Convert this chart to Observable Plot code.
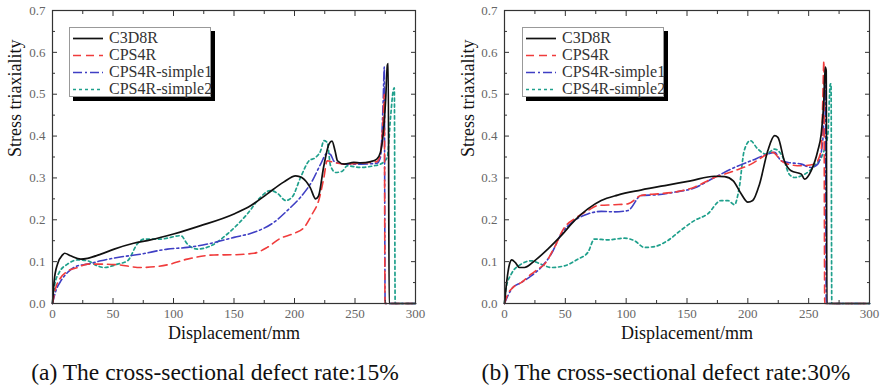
<!DOCTYPE html>
<html><head><meta charset="utf-8">
<script src="https://cdn.jsdelivr.net/npm/d3@7"></script>
<script src="https://cdn.jsdelivr.net/npm/@observablehq/plot@0.6"></script>
<style>
body{margin:0;background:#fff;}
#wrap{position:relative;width:882px;height:386px;overflow:hidden;font-family:"Liberation Serif","Times New Roman",serif;}
.panel{position:absolute;top:0;}
.caption{position:absolute;top:360px;font-size:23.5px;line-height:24px;color:#111;white-space:nowrap;transform:translateX(-50%);}
.legend{position:absolute;top:27px;width:142px;height:70px;box-sizing:border-box;background:#fff;border:1px solid #999;box-shadow:4px 4px 0 #000;}
.row{position:absolute;left:0;height:17px;width:140px;}
.row svg{position:absolute;left:2px;top:0;}
.row span{position:absolute;left:39px;top:-1px;font-size:16px;line-height:17px;color:#333;white-space:nowrap;}
</style>
</head><body>
<div id="wrap"></div>
<script>
// ---- data ----
const seriesNames = ["C3D8R", "CPS4R", "CPS4R-simple1", "CPS4R-simple2"];
const xTicks = [0, 50, 100, 150, 200, 250, 300];
const xMinor = [25, 75, 125, 175, 225, 275];
const yTicks = [0, 0.1, 0.2, 0.3, 0.4, 0.5, 0.6, 0.7];
const yMinor = [0.05, 0.15, 0.25, 0.35, 0.45, 0.55, 0.65];
const captions = ["(a) The cross-sectional defect rate:15%", "(b) The cross-sectional defect rate:30%"];

// (a) defect rate 15%
const c3d8r15 = [[0,0],[1.4,0.054],[4.1,0.094],[8.3,0.116],[10,0.12],[15,0.114],[23.4,0.106],[29,0.108],[40,0.118],[51,0.13],[67,0.144],[81,0.152],[100,0.166],[122.5,0.186],[150,0.214],[164,0.234],[177.5,0.262],[191,0.29],[201,0.305],[206,0.301],[213,0.277],[217.5,0.25],[220,0.258],[224,0.325],[228.5,0.381],[231,0.388],[233.5,0.365],[235.5,0.341],[241,0.333],[249,0.337],[254.6,0.336],[263,0.339],[268,0.345],[271,0.361],[273.3,0.405],[275.3,0.485],[276.8,0.57],[277.5,0.573],[278.2,0],[300,0]];
const cps4r15 = [[0,0],[2.75,0.038],[6.9,0.062],[12.4,0.077],[20.6,0.086],[29,0.094],[40,0.094],[53.7,0.0925],[73,0.086],[95,0.0925],[111.5,0.106],[133.5,0.116],[150,0.1165],[166.5,0.12],[177.5,0.134],[188.5,0.156],[199.6,0.1675],[208,0.182],[214.7,0.214],[220,0.246],[224.3,0.301],[227,0.341],[232.6,0.337],[241,0.333],[254.6,0.335],[268,0.339],[271,0.357],[273.3,0.445],[274.2,0.5],[274.8,0],[300,0]];
const simple1_15 = [[0,0],[2.75,0.03],[6.9,0.054],[12.4,0.074],[20.6,0.09],[29,0.094],[40,0.102],[53.7,0.11],[73,0.118],[95,0.13],[111.5,0.134],[128,0.142],[150,0.158],[166.5,0.17],[183,0.194],[194,0.222],[205,0.254],[214.7,0.293],[221.6,0.333],[227,0.359],[229.8,0.356],[232.6,0.34],[241,0.333],[254.6,0.333],[268,0.335],[271,0.349],[273.3,0.485],[274.2,0.565],[274.9,0],[300,0]];
const simple2_15 = [[0,0],[1.9,0.046],[5.5,0.074],[12.4,0.094],[20.6,0.104],[29,0.102],[37,0.09],[42.7,0.086],[53.7,0.094],[62,0.102],[70,0.142],[75.7,0.154],[89.5,0.154],[106,0.162],[111.5,0.142],[119.7,0.13],[131,0.138],[144.5,0.166],[161,0.214],[172,0.254],[180,0.27],[186,0.263],[192.7,0.246],[198,0.254],[205,0.301],[212,0.341],[217.5,0.349],[221.6,0.365],[224.3,0.389],[227,0.385],[229.8,0.329],[234,0.313],[239.5,0.316],[243.6,0.329],[254.6,0.325],[265.6,0.329],[271,0.333],[276.6,0.349],[279.4,0.445],[281.6,0.509],[282.5,0.515],[283.2,0],[300,0]];

// (b) defect rate 30%
const c3d8r30 = [[0,0],[1.9,0.054],[4.1,0.094],[6,0.104],[8.8,0.098],[12.3,0.086],[16.4,0.086],[24.7,0.102],[35.6,0.13],[46.6,0.162],[57.5,0.198],[68.5,0.226],[79.5,0.246],[93,0.259],[112,0.271],[134,0.283],[153,0.293],[172.6,0.304],[181,0.303],[188,0.293],[194.5,0.262],[200,0.242],[204,0.246],[209.6,0.285],[216.4,0.365],[222,0.401],[224.7,0.397],[230,0.341],[235.6,0.317],[244,0.309],[246.6,0.297],[252,0.317],[257.5,0.365],[260.3,0.405],[262.5,0.485],[263.6,0.565],[264.4,0.557],[265,0],[300,0]];
const cps4r30 = [[0,0],[2.7,0.022],[6.8,0.038],[13.7,0.05],[21.9,0.07],[27.4,0.082],[32.9,0.094],[41,0.134],[49.3,0.182],[57.5,0.202],[68.5,0.222],[76.7,0.234],[90.4,0.236],[101.4,0.238],[112.3,0.258],[126,0.262],[139.7,0.266],[156,0.278],[172.6,0.301],[189,0.317],[202.7,0.333],[216.4,0.357],[220.5,0.361],[227.4,0.341],[233,0.333],[244,0.329],[254.8,0.333],[260.3,0.365],[261.6,0.485],[262.5,0.58],[263.2,0],[300,0]];
const simple1_30 = [[0,0],[2.7,0.018],[6.8,0.038],[13.7,0.05],[21.9,0.066],[30,0.086],[38.4,0.118],[46.6,0.166],[57.5,0.198],[68.5,0.214],[79.5,0.22],[90.4,0.219],[101.4,0.222],[112.3,0.258],[126,0.26],[139.7,0.266],[156,0.276],[172.6,0.301],[189,0.325],[202.7,0.341],[216.4,0.357],[222,0.361],[227.4,0.341],[233,0.337],[244,0.333],[252,0.325],[257.5,0.333],[261.6,0.389],[263,0.517],[263.8,0.557],[264.4,0],[300,0]];
const simple2_30 = [[0,0],[1.4,0.038],[5.5,0.07],[13.7,0.094],[21.9,0.102],[30,0.094],[38.4,0.086],[49.3,0.09],[60.3,0.106],[68.5,0.122],[74,0.154],[85,0.152],[98.6,0.156],[106.8,0.15],[115,0.134],[123.3,0.136],[134,0.15],[145,0.175],[156,0.198],[167,0.214],[178,0.246],[183.6,0.246],[189,0.236],[193,0.278],[197,0.365],[202,0.389],[208.2,0.369],[215,0.357],[222,0.369],[228.8,0.349],[234,0.309],[238.4,0.301],[244,0.305],[250.7,0.317],[256,0.333],[261.6,0.357],[265.8,0.405],[267.8,0.525],[268.4,0.525],[269,0],[300,0]];

// ---- styles ----
const lineStyles = [
  {stroke: "#111111", dash: null, width: 1.7},
  {stroke: "#f03c3c", dash: "8,5", width: 1.6},
  {stroke: "#3f3fc4", dash: "9,3,2,3", width: 1.6},
  {stroke: "#1fa08c", dash: "3,3", width: 1.7}
];

function makePanel(seriesData, ml, mr) {
  const lines = seriesData.map((d, i) => Plot.line(d, {
    x: p => p[0], y: p => p[1], curve: "monotone-x",
    stroke: lineStyles[i].stroke, strokeWidth: lineStyles[i].width,
    strokeDasharray: lineStyles[i].dash
  }));
  return Plot.plot({
    width: 441, height: 350,
    marginTop: 10, marginBottom: 47, marginLeft: ml, marginRight: mr,
    x: {domain: [0, 300]},
    y: {domain: [0, 0.7]},
    style: {fontFamily: "Liberation Serif, Times New Roman, serif", fontSize: "13px", color: "#666", background: "transparent", overflow: "visible"},
    marks: [
      ...lines.slice().reverse(),
      Plot.frame({stroke: "#333", strokeWidth: 1.2}),
      Plot.axisX(xTicks, {anchor: "bottom", tickSize: 0, tickPadding: 5, tickFormat: d => String(d), label: null, fill: "#666"}),
      Plot.axisX(xTicks, {anchor: "bottom", tickSize: -5, tickFormat: () => "", label: null, stroke: "#333"}),
      Plot.axisX(xMinor, {anchor: "bottom", tickSize: -3, tickFormat: () => "", label: null, stroke: "#333"}),
      Plot.axisX(xTicks, {anchor: "top", tickSize: -5, tickFormat: () => "", label: null, stroke: "#333"}),
      Plot.axisX(xMinor, {anchor: "top", tickSize: -3, tickFormat: () => "", label: null, stroke: "#333"}),
      Plot.axisY(yTicks, {anchor: "left", tickSize: 0, tickPadding: 7, tickFormat: d3.format(".1f"), label: null, fill: "#666"}),
      Plot.axisY(yTicks, {anchor: "left", tickSize: -5, tickFormat: () => "", label: null, stroke: "#333"}),
      Plot.axisY(yMinor, {anchor: "left", tickSize: -3, tickFormat: () => "", label: null, stroke: "#333"}),
      Plot.axisY(yTicks, {anchor: "right", tickSize: -5, tickFormat: () => "", label: null, stroke: "#333"}),
      Plot.axisY(yMinor, {anchor: "right", tickSize: -3, tickFormat: () => "", label: null, stroke: "#333"}),
      Plot.text(["Displacement/mm"], {text: d => d, frameAnchor: "bottom", dy: 35, fontSize: 18, fill: "#111"}),
      Plot.text(["Stress triaxiality"], {text: d => d, frameAnchor: "left", dx: ml === 52 ? -37 : -36, rotate: -90, fontSize: 18, fill: "#111"})
    ]
  });
}

function makeLegend(left) {
  const box = document.createElement("div");
  box.className = "legend";
  box.style.left = left + "px";
  seriesNames.forEach((name, i) => {
    const row = document.createElement("div");
    row.className = "row";
    row.style.top = (2 + i * 17) + "px";
    const s = lineStyles[i];
    row.innerHTML = `<svg width="32" height="17"><line x1="1" x2="31" y1="8.5" y2="8.5" stroke="${s.stroke}" stroke-width="${s.width}" ${s.dash ? `stroke-dasharray="${s.dash}"` : ""}/></svg><span>${name}</span>`;
    box.appendChild(row);
  });
  return box;
}

const wrap = document.getElementById("wrap");
const p1 = makePanel([c3d8r15, cps4r15, simple1_15, simple2_15], 52, 26);
p1.classList.add("panel"); p1.style.left = "0px";
const p2 = makePanel([c3d8r30, cps4r30, simple1_30, simple2_30], 63, 13);
p2.classList.add("panel"); p2.style.left = "441px";
wrap.appendChild(p1); wrap.appendChild(p2);
wrap.appendChild(makeLegend(69));
wrap.appendChild(makeLegend(522));
[215, 666].forEach((cx, i) => {
  const c = document.createElement("div");
  c.className = "caption";
  c.style.left = cx + "px";
  c.textContent = captions[i];
  wrap.appendChild(c);
});
</script>
</body></html>
